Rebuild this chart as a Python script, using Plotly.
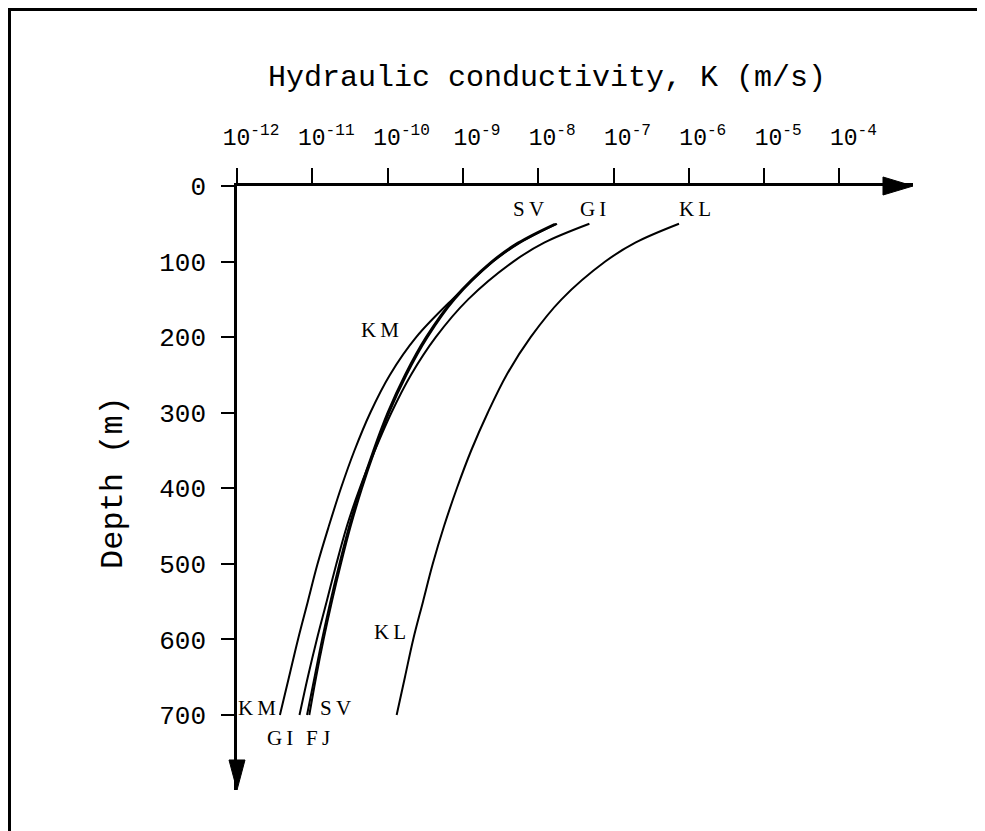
import plotly.graph_objects as go

# ---- data ----
depth = [50, 75, 100, 150, 200, 250, 300, 350, 400, 450, 500, 550, 600, 650, 700]
# log10 of hydraulic conductivity K (m/s)
logK_KM = [-7.76, -8.24, -8.60, -9.14, -9.62, -9.97, -10.23, -10.44, -10.62, -10.78, -10.93, -11.06, -11.19, -11.31, -11.43]
logK_GI = [-7.32, -7.92, -8.33, -8.93, -9.36, -9.69, -9.95, -10.17, -10.37, -10.54, -10.68, -10.81, -10.94, -11.06, -11.17]
logK_SV = [-7.75, -8.25, -8.60, -9.11, -9.47, -9.75, -9.98, -10.17, -10.34, -10.49, -10.62, -10.74, -10.85, -10.95, -11.04]
logK_FJ = [-7.78, -8.27, -8.62, -9.13, -9.49, -9.77, -10.00, -10.19, -10.36, -10.51, -10.64, -10.76, -10.87, -10.97, -11.07]
logK_KL = [-6.13, -6.71, -7.11, -7.69, -8.10, -8.42, -8.67, -8.89, -9.08, -9.25, -9.40, -9.53, -9.66, -9.77, -9.88]

x_exponents = [-12, -11, -10, -9, -8, -7, -6, -5, -4]
y_ticks = [0, 100, 200, 300, 400, 500, 600, 700]

# ---- layout geometry (reference pixels; page has an 8px body margin) ----
OFF = 8
W, H = 985 - OFF, 831 - OFF
L, R, T, B = 237 - OFF, 913 - OFF, 186 - OFF, 790 - OFF


def px(x):
    return (x - OFF - L) / (R - L)


def py(y):
    return (B - (y - OFF)) / (B - T)


fig = go.Figure()
series = [logK_KM, logK_GI, logK_SV, logK_FJ, logK_KL]
for s in series:
    fig.add_trace(go.Scatter(
        x=[10 ** v for v in s], y=depth, mode="lines",
        line=dict(color="black", width=2, shape="spline", smoothing=1.0),
        hoverinfo="skip", showlegend=False))

mono = "Liberation Mono, Courier New, monospace"
serif = "Liberation Serif, Times New Roman, serif"

decade = 75.3
xmax = -12 + (R - L) / decade
dmax = (B - T) / 0.7557

fig.update_xaxes(
    type="log", range=[-12, xmax], side="top",
    showline=True, linecolor="black", linewidth=2.5,
    ticks="outside", ticklen=15, tickwidth=2, tickcolor="black",
    tickvals=[10 ** e for e in x_exponents],
    ticktext=["10<sup>%d</sup>" % e for e in x_exponents],
    tickfont=dict(family=mono, size=23, color="black"),
    ticklabelshift=14, ticklabelstandoff=14,
    showgrid=False, zeroline=False)
fig.update_yaxes(
    range=[dmax, 0],
    showline=True, linecolor="black", linewidth=2.5,
    ticks="outside", ticklen=13, tickwidth=2, tickcolor="black",
    tickvals=y_ticks, ticktext=[str(v) for v in y_ticks],
    tickfont=dict(family=mono, size=26, color="black"),
    ticklabelstandoff=10,
    showgrid=False, zeroline=False)

shapes = [
    # x-axis arrowhead
    dict(type="path", xref="paper", yref="paper",
         path="M %f %f L %f %f L %f %f Z" % (px(883), py(177), px(913), py(186), px(883), py(195)),
         fillcolor="black", line=dict(color="black", width=1)),
    # y-axis arrowhead
    dict(type="path", xref="paper", yref="paper",
         path="M %f %f L %f %f L %f %f Z" % (px(229), py(760), px(237), py(790), px(245), py(760)),
         fillcolor="black", line=dict(color="black", width=1)),
    # frame (left and top)
    dict(type="line", xref="paper", yref="paper", x0=px(9.5), y0=py(9.5), x1=px(9.5), y1=py(840),
         line=dict(color="black", width=3)),
    dict(type="line", xref="paper", yref="paper", x0=px(8), y0=py(9.5), x1=px(990), y1=py(9.5),
         line=dict(color="black", width=3)),
]

labels = [
    ("S\u2009V", 528, 209), ("G\u2009I", 593, 209), ("K\u2009L", 695, 209),
    ("K\u2009M", 380, 330), ("K\u2009L", 390, 632),
    ("K\u2009M", 257, 708), ("S\u2009V", 335, 708),
    ("G\u2009I", 280, 738), ("F\u2009J", 318, 738),
]
annotations = [dict(text=t, x=px(x), y=py(y), xref="paper", yref="paper",
                    showarrow=False, xanchor="center", yanchor="middle",
                    font=dict(family=serif, size=21, color="black"))
               for t, x, y in labels]
annotations.append(dict(text="Hydraulic conductivity, K (m/s)", x=px(547), y=py(78),
                        xref="paper", yref="paper", showarrow=False,
                        xanchor="center", yanchor="middle",
                        font=dict(family=mono, size=30, color="black")))
annotations.append(dict(text="Depth (m)", x=px(113), y=py(483), textangle=-90,
                        xref="paper", yref="paper", showarrow=False,
                        xanchor="center", yanchor="middle",
                        font=dict(family=mono, size=32, color="black")))

fig.update_layout(
    width=W, height=H,
    margin=dict(l=L, r=W - R, t=T, b=H - B, pad=0),
    paper_bgcolor="white", plot_bgcolor="white",
    shapes=shapes, annotations=annotations, showlegend=False)

fig.write_html("out.html")
